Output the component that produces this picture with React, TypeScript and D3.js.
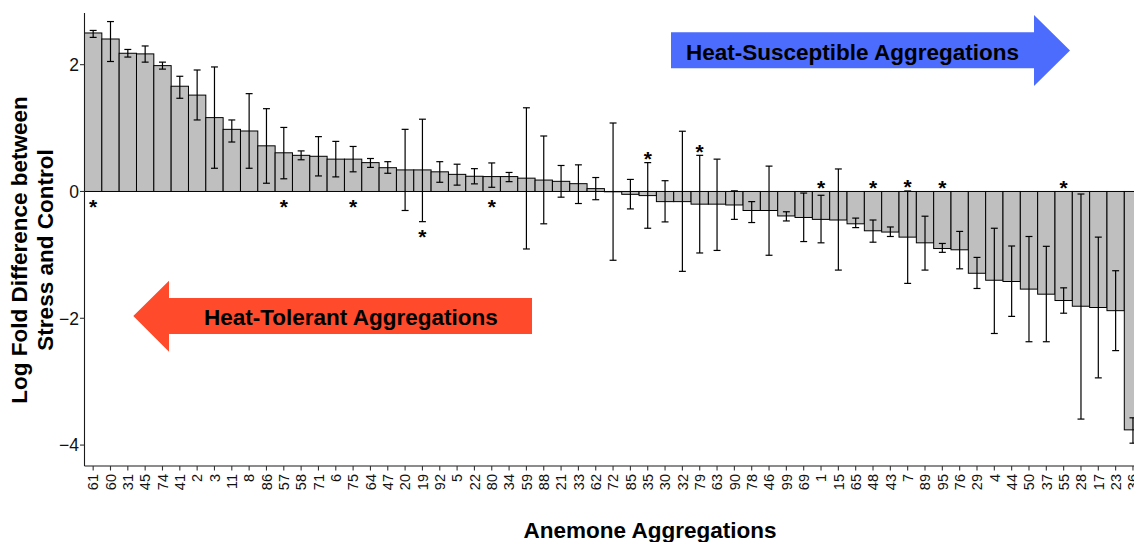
import React from 'react';
import * as d3 from 'd3';

// Anemone aggregations, ordered from largest to smallest log fold difference
const aggregations = [
  '61', '60', '31', '45', '74', '41', '2', '3', '11', '8', '86', '57', '58', '71', '6', '75', '64',
  '47', '20', '19', '92', '5', '22', '80', '34', '59', '88', '21', '33', '62', '72', '85', '35',
  '30', '32', '79', '63', '90', '78', '46', '99', '69', '1', '15', '65', '48', '43', '7', '89',
  '95', '76', '29', '4', '44', '50', '37', '55', '28', '17', '23', '36',
];

// Log fold difference between stress and control
const logFold = [
  2.5, 2.405, 2.18, 2.17, 1.985, 1.66, 1.52, 1.165, 0.98, 0.954, 0.72, 0.61, 0.57, 0.555, 0.51, 0.51, 0.455,
  0.375, 0.34, 0.34, 0.31, 0.27, 0.24, 0.235, 0.235, 0.21, 0.18, 0.16, 0.123, 0.045, -0.005, -0.045, -0.065,
  -0.16, -0.16, -0.2, -0.2, -0.213, -0.3, -0.3, -0.386, -0.41, -0.44, -0.45, -0.51, -0.62, -0.64, -0.72, -0.81,
  -0.9, -0.92, -1.29, -1.4, -1.42, -1.54, -1.62, -1.72, -1.81, -1.83, -1.88, -3.76,
];

// Lower and upper ends of the error bars
const errLow = [
  2.43, 2.05, 2.12, 2.04, 1.93, 1.47, 1.128, 0.366, 0.78, 0.366, 0.13, 0.2, 0.5, 0.245, 0.23, 0.31, 0.38,
  0.287, -0.3, -0.476, 0.145, 0.1, 0.12, 0.066, 0.155, -0.907, -0.51, -0.09, -0.19, -0.13, -1.085, -0.275, -0.58,
  -0.48, -1.26, -0.97, -0.93, -0.44, -0.49, -1.006, -0.465, -0.79, -0.81, -1.24, -0.57, -0.8, -0.71, -1.45, -1.24,
  -0.96, -1.22, -1.53, -2.24, -1.97, -2.37, -2.37, -1.92, -3.59, -2.94, -2.51, -3.97,
];
const errHigh = [
  2.54, 2.68, 2.24, 2.295, 2.04, 1.817, 1.916, 1.964, 1.128, 1.543, 1.306, 1.01, 0.64, 0.865, 0.79, 0.71, 0.52,
  0.47, 0.98, 1.14, 0.47, 0.43, 0.36, 0.45, 0.3, 1.32, 0.875, 0.41, 0.42, 0.22, 1.08, 0.19, 0.455,
  0.17, 0.95, 0.57, 0.51, 0.01, -0.16, 0.4, -0.32, -0.025, -0.06, 0.355, -0.42, -0.45, -0.56, 0.008, -0.39,
  -0.82, -0.63, -1.04, -0.58, -0.86, -0.71, -0.865, -1.52, -0.04, -0.72, -1.25, -3.57,
];

// Aggregations marked with an asterisk
const significant = ['61', '57', '75', '19', '80', '35', '79', '1', '48', '7', '95', '55'];

const yTicks = [-4, -2, 0, 2];

const W = 1134;
const H = 542;
const FONT = '"Liberation Sans", Arial, Helvetica, sans-serif';

export default function App() {
  const left = 84.5;
  const step = 17.33;
  const x = d3
    .scaleBand<string>()
    .domain(aggregations)
    .range([left, left + aggregations.length * step])
    .padding(0);
  const y = d3.scaleLinear().domain([-4.33, 2.815]).range([466, 13]);
  const bw = x.bandwidth();
  const axisY = y.range()[0];
  const topY = y.range()[1];

  const rows = aggregations.map((a, i) => ({
    a,
    v: logFold[i],
    lo: errLow[i],
    hi: errHigh[i],
    sig: significant.includes(a),
  }));

  const blueArrow: [number, number][] = [
    [671, 32.3], [1034, 32.3], [1034, 15], [1070, 50.5], [1034, 86], [1034, 68.3], [671, 68.3],
  ];
  const redArrow: [number, number][] = [
    [532, 298], [169, 298], [169, 280.7], [133.3, 316], [169, 351.7], [169, 334], [532, 334],
  ];
  const poly = (pts: [number, number][]) => pts.map((p) => p.join(',')).join(' ');

  return (
    <svg
      width={W}
      height={H}
      viewBox={`0 0 ${W} ${H}`}
      style={{ position: 'absolute', left: 0, top: 0, display: 'block', background: '#fff' }}
      fontFamily={FONT}
    >
      <rect x={0} y={0} width={W} height={H} fill="#fff" />

      {/* bars */}
      <g>
        {rows.map((r) => (
          <rect
            key={`b-${r.a}`}
            x={x(r.a)}
            y={y(Math.max(0, r.v))}
            width={bw}
            height={Math.abs(y(r.v) - y(0))}
            fill="#bfbfbf"
            stroke="#000"
            strokeWidth={1}
          />
        ))}
      </g>

      {/* error bars */}
      <g stroke="#000" strokeWidth={1.2}>
        {rows.map((r) => {
          const cx = (x(r.a) as number) + bw / 2;
          const hw = bw * 0.2;
          return (
            <g key={`e-${r.a}`}>
              <line x1={cx} x2={cx} y1={y(r.lo)} y2={y(r.hi)} />
              <line x1={cx - hw} x2={cx + hw} y1={y(r.lo)} y2={y(r.lo)} />
              <line x1={cx - hw} x2={cx + hw} y1={y(r.hi)} y2={y(r.hi)} />
            </g>
          );
        })}
      </g>

      {/* significance asterisks */}
      <g fontSize={21} fontWeight="bold" textAnchor="middle" fill="#000">
        {rows
          .filter((r) => r.sig)
          .map((r) => {
            const cx = (x(r.a) as number) + bw / 2;
            const cy = r.v >= 0 ? y(Math.min(0, r.lo)) + 10.5 : y(Math.max(0, r.hi)) - 9;
            return (
              <text key={`s-${r.a}`} x={cx} y={cy + 12.3}>
                *
              </text>
            );
          })}
      </g>

      {/* axes */}
      <line x1={left} x2={left} y1={topY} y2={axisY} stroke="#1a1a1a" strokeWidth={1.1} />
      <line x1={left} x2={W} y1={axisY} y2={axisY} stroke="#1a1a1a" strokeWidth={1.1} />

      <g>
        {yTicks.map((t) => (
          <g key={`yt-${t}`}>
            <line x1={left - 4.5} x2={left} y1={y(t)} y2={y(t)} stroke="#333" strokeWidth={1.1} />
            <text
              x={left - 5.5}
              y={y(t) + 6.3}
              textAnchor="end"
              fontSize={17.5}
              fill="#111"
            >
              {t < 0 ? `\u2212${Math.abs(t)}` : `${t}`}
            </text>
          </g>
        ))}
      </g>

      <g>
        {aggregations.map((a) => {
          const cx = (x(a) as number) + bw / 2;
          return (
            <g key={`xt-${a}`}>
              <line x1={cx} x2={cx} y1={axisY} y2={axisY + 4.5} stroke="#333" strokeWidth={1.1} />
              <text
                transform={`translate(${cx + 5.2},${axisY + 8}) rotate(-90)`}
                textAnchor="end"
                fontSize={14.5}
                fill="#111"
              >
                {a}
              </text>
            </g>
          );
        })}
      </g>

      {/* axis titles */}
      <text x={650} y={538} textAnchor="middle" fontSize={22.5} fontWeight="bold" fill="#000">
        Anemone Aggregations
      </text>
      <text
        transform="translate(27,250) rotate(-90)"
        textAnchor="middle"
        fontSize={22.5}
        fontWeight="bold"
        fill="#000"
      >
        Log Fold Difference between
      </text>
      <text
        transform="translate(53,250) rotate(-90)"
        textAnchor="middle"
        fontSize={22.5}
        fontWeight="bold"
        fill="#000"
      >
        Stress and Control
      </text>

      {/* direction arrows */}
      <polygon points={poly(blueArrow)} fill="#4c6cfd" />
      <text x={686} y={60} fontSize={22.5} fontWeight="bold" fill="#000">
        Heat-Susceptible Aggregations
      </text>
      <polygon points={poly(redArrow)} fill="#ff4a2b" />
      <text x={204} y={325} fontSize={22.5} fontWeight="bold" fill="#000">
        Heat-Tolerant Aggregations
      </text>
    </svg>
  );
}
